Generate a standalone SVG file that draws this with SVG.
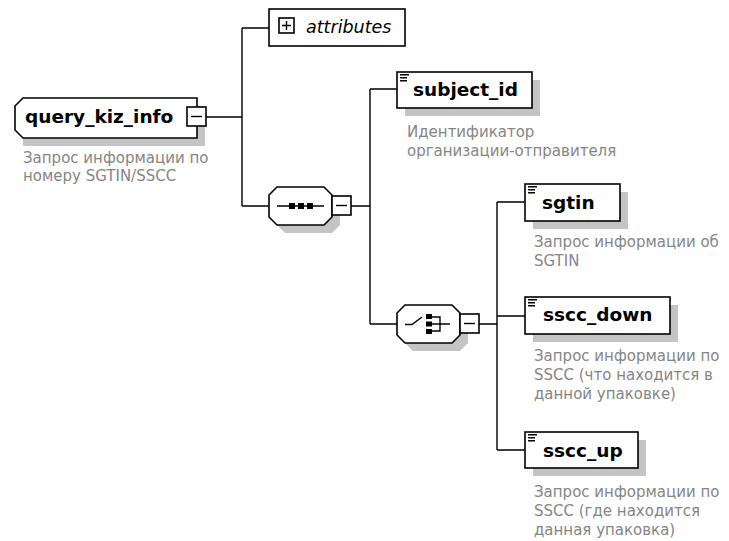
<svg xmlns="http://www.w3.org/2000/svg" width="729" height="541" viewBox="0 0 729 541">
<style>
.bg{fill:#ffffff}
.box{fill:#ffffff;stroke:#000000;stroke-width:1.6}
.sh{fill:#c4c4c4}
.ln{fill:none;stroke:#000000;stroke-width:1.4}
.ic{fill:none;stroke:#000000;stroke-width:1.4}
.sq{fill:#000000}
.name{font-family:"DejaVu Sans",Verdana,sans-serif;font-weight:bold;font-size:18.5px;fill:#000000}
.attr{font-family:"DejaVu Sans",Verdana,sans-serif;font-style:italic;font-size:17.5px;fill:#000000}
.desc{font-family:"DejaVu Sans",Verdana,sans-serif;font-size:15px;fill:#858585}
</style>
<defs>
<g id="simple">
<path d="M0 0.7H9M0 3.7H7M0 6.7H7" stroke="#000" stroke-width="1.4" fill="none"/>
</g>
</defs>
<rect class="bg" x="0" y="0" width="729" height="541"/>

<g id="connectors">
<path class="ln" d="M206 117H242M242 28V206M242 28H269M242 206H269"/>
<path class="ln" d="M351 206H370M370 89V324M370 89H397M370 324H397"/>
<path class="ln" d="M479 324H497M497 202V450M497 202H525M497 316H525M497 450H525"/>
</g>

<g id="query_kiz_info">
<path class="sh" d="M31 106H205V146H23V114Z"/>
<path class="box" d="M23 98H197V138H23L15 130V106Z"/>
<text class="name" x="25" y="123">query_kiz_info</text>
<rect class="box" x="187" y="107" width="19" height="19"/>
<path class="ic" d="M191 116.5H202"/>
<text class="desc" x="23" y="163">Запрос информации по</text>
<text class="desc" x="23" y="181">номеру SGTIN/SSCC</text>
</g>

<g id="attributes">
<rect class="box" x="269" y="9" width="136" height="37"/>
<rect class="box" x="279" y="18" width="15" height="15"/>
<path class="ic" d="M282 25.5H291M286.5 21V30"/>
<text class="attr" x="306" y="33">attributes</text>
</g>

<g id="sequence">
<path class="sh" d="M285 195H332L340 203V225L332 233H285L277 225V203Z"/>
<path class="box" d="M277 187H324L332 195V217L324 225H277L269 217V195Z"/>
<path class="ic" d="M277 206H324"/>
<rect class="sq" x="289" y="203" width="6" height="6"/>
<rect class="sq" x="298" y="203" width="6" height="6"/>
<rect class="sq" x="307" y="203" width="6" height="6"/>
<rect class="box" x="332" y="196" width="19" height="19"/>
<path class="ic" d="M336 205.5H347"/>
</g>

<g id="subject_id">
<rect class="sh" x="405" y="80" width="135" height="36"/>
<rect class="box" x="397" y="72" width="135" height="36"/>
<use href="#simple" x="400" y="74"/>
<text class="name" x="413" y="96">subject_id</text>
<text class="desc" x="407" y="137">Идентификатор</text>
<text class="desc" x="407" y="156">организации-отправителя</text>
</g>

<g id="choice">
<path class="sh" d="M413 313H460L468 321V343L460 351H413L405 343V321Z"/>
<path class="box" d="M405 305H452L460 313V335L452 343H405L397 335V313Z"/>
<path class="ic" d="M405 324.5H412L422 317M432 317H440V331H432M432 324H450"/>
<rect class="sq" x="426" y="314" width="6" height="5"/>
<rect class="sq" x="426" y="321.5" width="6" height="5"/>
<rect class="sq" x="426" y="329" width="6" height="5"/>
<rect class="box" x="460" y="314" width="19" height="19"/>
<path class="ic" d="M464 323.5H475"/>
</g>

<g id="sgtin">
<rect class="sh" x="533" y="192" width="95" height="37"/>
<rect class="box" x="525" y="184" width="95" height="37"/>
<use href="#simple" x="528" y="186"/>
<text class="name" x="542" y="209">sgtin</text>
<text class="desc" x="534" y="247">Запрос информации об</text>
<text class="desc" x="534" y="266">SGTIN</text>
</g>

<g id="sscc_down">
<rect class="sh" x="533" y="305" width="145" height="37"/>
<rect class="box" x="525" y="297" width="145" height="37"/>
<use href="#simple" x="528" y="299"/>
<text class="name" x="543" y="321">sscc_down</text>
<text class="desc" x="534" y="361">Запрос информации по</text>
<text class="desc" x="534" y="380">SSCC (что находится в</text>
<text class="desc" x="534" y="399">данной упаковке)</text>
</g>

<g id="sscc_up">
<rect class="sh" x="533" y="440" width="113" height="36"/>
<rect class="box" x="525" y="432" width="113" height="36"/>
<use href="#simple" x="528" y="434"/>
<text class="name" x="543" y="457">sscc_up</text>
<text class="desc" x="534" y="497">Запрос информации по</text>
<text class="desc" x="534" y="516">SSCC (где находится</text>
<text class="desc" x="534" y="535">данная упаковка)</text>
</g>
</svg>
